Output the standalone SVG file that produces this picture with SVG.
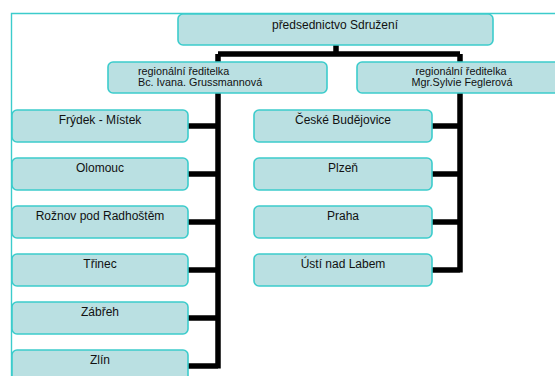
<svg xmlns="http://www.w3.org/2000/svg" width="555" height="376" viewBox="0 0 555 376">
<style>
.box{fill:#bae0e2;stroke:#3ccccc;stroke-width:1.6}
.t{font-family:"Liberation Sans",Arial,sans-serif;font-size:12px;fill:#111;text-anchor:middle}
.m{font-family:"Liberation Sans",Arial,sans-serif;font-size:10.8px;fill:#111}
.c{fill:none;stroke:#000;stroke-width:5.5;stroke-linejoin:miter;stroke-linecap:butt}
</style>
<rect width="555" height="376" fill="#fff"/>
<path d="M11.5,380 V13.5 H560" fill="none" stroke="#3ccccc" stroke-width="1.4"/>
<g id="connectors">
<path class="c" d="M336,45 V54 M218,54 H460 M218,54 V63 M460,54 V63"/>
<path class="c" d="M218,93 V368.5 M188,126 H218 M188,174 H218 M188,222 H218 M188,270 H218 M188,318 H218 M188,366 H218"/>
<path class="c" d="M460,93 V272.5 M432,126 H460 M432,174 H460 M432,222 H460 M432,270 H460"/>
</g>
<g id="top"><rect class="box" x="178" y="14" width="315" height="31" rx="5"/><text class="t" x="335" y="29">předsednictvo Sdružení</text></g>
<g id="reg1"><rect class="box" x="108" y="62" width="219" height="31" rx="5"/><text class="m" x="138" y="75">regionální ředitelka</text><text class="m" x="138" y="86">Bc. Ivana. Grussmannová</text></g>
<g id="reg2"><rect class="box" x="357" y="62" width="210" height="31" rx="5"/><text class="m" x="461" y="75" text-anchor="middle">regionální ředitelka</text><text class="m" x="462" y="86" text-anchor="middle">Mgr.Sylvie Feglerová</text></g>
<g id="frydek"><rect class="box" x="12" y="110" width="176" height="32" rx="5"/><text class="t" x="100" y="124">Frýdek - Místek</text></g>
<g id="olomouc"><rect class="box" x="12" y="158" width="176" height="32" rx="5"/><text class="t" x="100" y="172">Olomouc</text></g>
<g id="roznov"><rect class="box" x="12" y="206" width="176" height="32" rx="5"/><text class="t" x="100" y="220">Rožnov pod Radhoštěm</text></g>
<g id="trinec"><rect class="box" x="12" y="254" width="176" height="32" rx="5"/><text class="t" x="100" y="268">Třinec</text></g>
<g id="zabreh"><rect class="box" x="12" y="302" width="176" height="32" rx="5"/><text class="t" x="100" y="316">Zábřeh</text></g>
<g id="zlin"><rect class="box" x="12" y="350" width="176" height="32" rx="5"/><text class="t" x="100" y="364">Zlín</text></g>
<g id="budejovice"><rect class="box" x="254" y="110" width="178" height="32" rx="5"/><text class="t" x="343" y="124">České Budějovice</text></g>
<g id="plzen"><rect class="box" x="254" y="158" width="178" height="32" rx="5"/><text class="t" x="343" y="172">Plzeň</text></g>
<g id="praha"><rect class="box" x="254" y="206" width="178" height="32" rx="5"/><text class="t" x="343" y="220">Praha</text></g>
<g id="usti"><rect class="box" x="254" y="254" width="178" height="32" rx="5"/><text class="t" x="343" y="268">Ústí nad Labem</text></g>
</svg>
